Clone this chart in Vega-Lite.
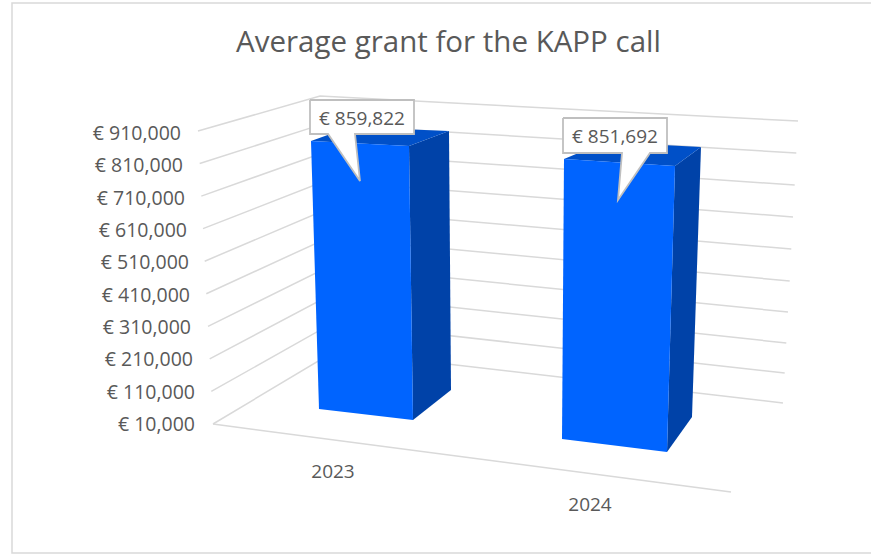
{
"$schema":"https://vega.github.io/schema/vega-lite/v6.json",
"width":861,"height":550,
"autosize":{"type":"none"},
"padding":{"left":12,"top":3,"right":-2,"bottom":1},
"background":"white",
"view":{"stroke":"#d9d9d9","strokeWidth":1.5},
"title":{"text":"Average grant for the KAPP call","font":"Open Sans","fontSize":29.5,"fontWeight":"normal","color":"#595959","anchor":"middle","dx":6,"offset":-49,"dy":29,"baseline":"alphabetic"},
"datasets":{
"grid":[
{"tick":10000,"seq":1,"across":213,"level":10000},{"tick":10000,"seq":2,"across":335,"level":235800},{"tick":10000,"seq":3,"across":783,"level":74900},
{"tick":110000,"seq":1,"across":211.3,"level":110700},{"tick":110000,"seq":2,"across":333.3,"level":323400},{"tick":110000,"seq":3,"across":784.7,"level":167700},
{"tick":210000,"seq":1,"across":209.7,"level":211400},{"tick":210000,"seq":2,"across":331.7,"level":411000},{"tick":210000,"seq":3,"across":786.3,"level":260500},
{"tick":310000,"seq":1,"across":208,"level":312100},{"tick":310000,"seq":2,"across":330,"level":498600},{"tick":310000,"seq":3,"across":788,"level":356400},
{"tick":410000,"seq":1,"across":206.3,"level":412800},{"tick":410000,"seq":2,"across":328.3,"level":586200},{"tick":410000,"seq":3,"across":789.7,"level":452300},
{"tick":510000,"seq":1,"across":204.7,"level":513500},{"tick":510000,"seq":2,"across":326.7,"level":673800},{"tick":510000,"seq":3,"across":791.3,"level":551200},
{"tick":610000,"seq":1,"across":203,"level":614200},{"tick":610000,"seq":2,"across":325,"level":761400},{"tick":610000,"seq":3,"across":793,"level":650200},
{"tick":710000,"seq":1,"across":201.3,"level":714900},{"tick":710000,"seq":2,"across":323.3,"level":849000},{"tick":710000,"seq":3,"across":794.7,"level":749200},
{"tick":810000,"seq":1,"across":199.7,"level":815600},{"tick":810000,"seq":2,"across":321.7,"level":936600},{"tick":810000,"seq":3,"across":796.3,"level":848100},
{"tick":910000,"seq":1,"across":198,"level":916300},{"tick":910000,"seq":2,"across":320,"level":1024200},{"tick":910000,"seq":3,"across":798,"level":947100},
{"tick":0,"seq":1,"across":213,"level":10000},{"tick":0,"seq":2,"across":731,"level":-200300}
],
"ticks":[
{"level":910000,"across":181},{"level":810000,"across":183},{"level":710000,"across":185},{"level":610000,"across":187},{"level":510000,"across":189},
{"level":410000,"across":190},{"level":310000,"across":191},{"level":210000,"across":193},{"level":110000,"across":195},{"level":10000,"across":195}
],
"bars":[
{"part":"2023 side","face":"side","seq":1,"across":409,"level":869793},{"part":"2023 side","face":"side","seq":2,"across":449,"level":916185},{"part":"2023 side","face":"side","seq":3,"across":451,"level":115155},{"part":"2023 side","face":"side","seq":4,"across":413,"level":22371},
{"part":"2023 top","face":"top","seq":1,"across":311,"level":885257},{"part":"2023 top","face":"top","seq":2,"across":350,"level":928556},{"part":"2023 top","face":"top","seq":3,"across":449,"level":916185},{"part":"2023 top","face":"top","seq":4,"across":409,"level":869793},
{"part":"2023 front","face":"front","seq":1,"across":311,"level":885257},{"part":"2023 front","face":"front","seq":2,"across":409,"level":869793},{"part":"2023 front","face":"front","seq":3,"across":413,"level":22371},{"part":"2023 front","face":"front","seq":4,"across":319,"level":56392},
{"part":"2024 side","face":"side","seq":1,"across":675,"level":807937},{"part":"2024 side","face":"side","seq":2,"across":701,"level":866700},{"part":"2024 side","face":"side","seq":3,"across":692,"level":31649},{"part":"2024 side","face":"side","seq":4,"across":667,"level":-76598},
{"part":"2024 top","face":"top","seq":1,"across":564,"level":829587},{"part":"2024 top","face":"top","seq":2,"across":605,"level":882164},{"part":"2024 top","face":"top","seq":3,"across":701,"level":866700},{"part":"2024 top","face":"top","seq":4,"across":675,"level":807937},
{"part":"2024 front","face":"front","seq":1,"across":564,"level":829587},{"part":"2024 front","face":"front","seq":2,"across":675,"level":807937},{"part":"2024 front","face":"front","seq":3,"across":667,"level":-76598},{"part":"2024 front","face":"front","seq":4,"across":562,"level":-36392}
],
"callouts":[
{"year":"2023","seq":1,"across":310,"level":1012061},{"year":"2023","seq":2,"across":414,"level":1012061},{"year":"2023","seq":3,"across":414,"level":906906},{"year":"2023","seq":4,"across":355,"level":906906},{"year":"2023","seq":5,"across":360,"level":761546},{"year":"2023","seq":6,"across":328,"level":906906},{"year":"2023","seq":7,"across":310,"level":906906},{"year":"2023","seq":8,"across":310,"level":1012061},
{"year":"2024","seq":1,"across":563,"level":956391},{"year":"2024","seq":2,"across":667,"level":956391},{"year":"2024","seq":3,"across":667,"level":848143},{"year":"2024","seq":4,"across":650,"level":848143},{"year":"2024","seq":5,"across":618,"level":702783},{"year":"2024","seq":6,"across":622,"level":848143},{"year":"2024","seq":7,"across":563,"level":848143},{"year":"2024","seq":8,"across":563,"level":956391}
],
"grants":[
{"year":"2023","grant":859822,"across":362,"level":953000,"yearAcross":333,"yearLevel":-138000},
{"year":"2024","grant":851692,"across":615,"level":897000,"yearAcross":590,"yearLevel":-240000}
]
},
"data":{"name":"grid"},
"encoding":{
"x":{"field":"across","type":"quantitative","scale":{"domain":[12,873],"nice":false,"zero":false},"axis":null},
"y":{"field":"level","type":"quantitative","scale":{"domain":[-388969,1312060],"nice":false,"zero":false},"axis":null}
},
"layer":[
{"mark":{"type":"line","stroke":"#d9d9d9","strokeWidth":1.5},"encoding":{"detail":{"field":"tick"},"order":{"field":"seq"}}},
{"data":{"name":"ticks"},"transform":[{"calculate":"'€ ' + format(datum.level, ',')","as":"tickLabel"}],"mark":{"type":"text","align":"right","font":"Open Sans","fontSize":19.5,"color":"#595959","dy":1},"encoding":{"text":{"field":"tickLabel","type":"nominal"}}},
{"data":{"name":"bars"},"mark":{"type":"line","filled":true},"encoding":{"detail":{"field":"part"},"order":{"field":"seq"},"color":{"field":"face","type":"nominal","legend":null,"scale":{"domain":["front","side","top"],"range":["#0064ff","#0042a8","#0050c8"]}}}},
{"data":{"name":"callouts"},"mark":{"type":"line","fill":"white","stroke":"#bfbfbf","strokeWidth":1.8},"encoding":{"detail":{"field":"year"},"order":{"field":"seq"}}},
{"data":{"name":"grants"},"transform":[{"calculate":"'€ ' + format(datum.grant, ',')","as":"grantLabel"}],"mark":{"type":"text","font":"Open Sans","fontSize":19,"color":"#595959"},"encoding":{"text":{"field":"grantLabel","type":"nominal"}}},
{"data":{"name":"grants"},"mark":{"type":"text","font":"Open Sans","fontSize":19,"color":"#595959"},"encoding":{"x":{"field":"yearAcross","type":"quantitative"},"y":{"field":"yearLevel","type":"quantitative"},"text":{"field":"year","type":"nominal"}}}
]
}
